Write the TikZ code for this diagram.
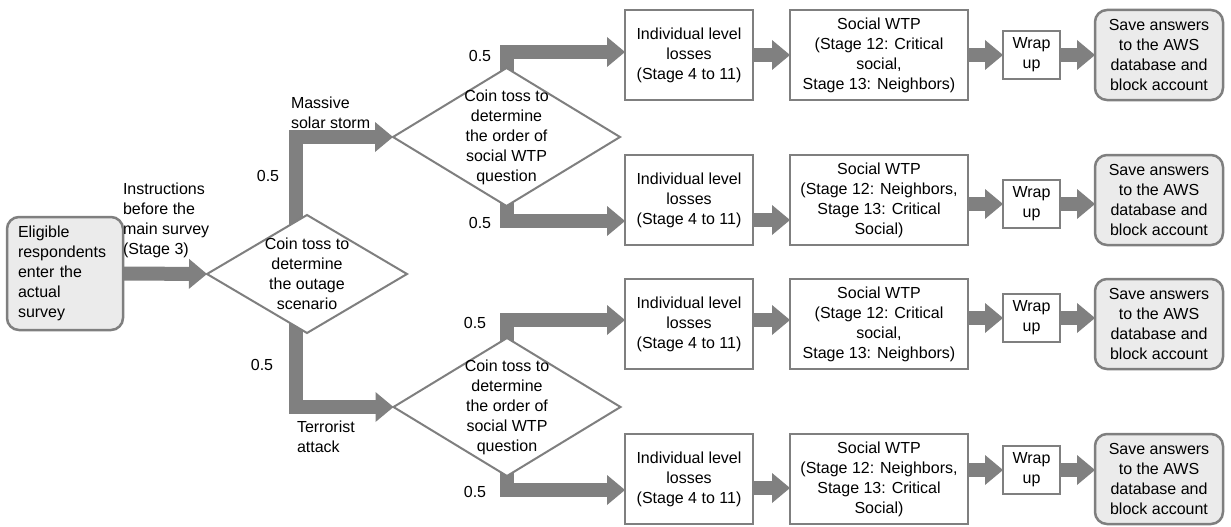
\documentclass[tikz,border=0pt]{standalone}
\usepackage{fontspec}
\setmainfont{Liberation Sans}
\usetikzlibrary{arrows.meta,shapes.geometric}
\definecolor{bgray}{HTML}{7F7F7F}
\definecolor{agray}{HTML}{808080}
\definecolor{lfill}{HTML}{EBEBEB}
\pgfdeclarelayer{bg}
\pgfsetlayers{bg,main}
\begin{document}
\begin{tikzpicture}[x=1pt,y=-1pt,
 every node/.style={font=\fontsize{16}{20}\selectfont, inner sep=0pt, outer sep=0pt},
 box/.style={draw=bgray, line width=2.5pt, fill=white, align=center, minimum height=90pt},
 indbox/.style={box, minimum width=128pt},
 socbox/.style={box, minimum width=178pt},
 wrapbox/.style={box, minimum width=57pt, minimum height=48pt},
 savebox/.style={box, fill=lfill, rounded corners=12pt, minimum width=128pt},
 dia/.style={diamond, draw=bgray, line width=2pt, fill=white},
 flow/.style={draw=agray, line width=14pt, line join=miter,
   -{Triangle[width=30pt,length=18pt,line width=0pt]}},
]
\useasboundingbox (0,0) rectangle (1231,527);

% start
\node[savebox, align=left, text width=94pt, minimum width=116pt, minimum height=113pt] (start) at (65,273.5)
  {Eligible\\respondents\\enter the\\actual\\survey};

% diamonds
\node[dia, minimum width=200pt, minimum height=118pt] (d1) at (307,274) {};
\node[align=center] (d1t) at (d1.center) {Coin toss to\\determine\\the outage\\scenario};
\node[dia, minimum width=227pt, minimum height=138pt] (d2) at (506.5,137) {};
\node[align=center] (d2t) at (d2.center) {Coin toss to\\determine\\the order of\\social WTP\\question};
\node[dia, minimum width=227pt, minimum height=138pt] (d3) at (507,407) {};
\node[align=center] (d3t) at (d3.center) {Coin toss to\\determine\\the order of\\social WTP\\question};

% row 1
\node[indbox] (i1) at (689,55) {Individual level\\losses\\(Stage 4 to 11)};
\node[socbox] (s1) at (879,55) {Social WTP\\(Stage 12: Critical\\social,\\Stage 13: Neighbors)};
\node[wrapbox] (w1) at (1031.5,55) {Wrap\\up};
\node[savebox] (v1) at (1159,55) {Save answers\\to the AWS\\database and\\block account};
% row 2
\node[indbox] (i2) at (689,200) {Individual level\\losses\\(Stage 4 to 11)};
\node[socbox] (s2) at (879,200) {Social WTP\\(Stage 12: Neighbors,\\Stage 13: Critical\\Social)};
\node[wrapbox] (w2) at (1031.5,204) {Wrap\\up};
\node[savebox] (v2) at (1159,200) {Save answers\\to the AWS\\database and\\block account};
% row 3
\node[indbox] (i3) at (689,324) {Individual level\\losses\\(Stage 4 to 11)};
\node[socbox] (s3) at (879,324) {Social WTP\\(Stage 12: Critical\\social,\\Stage 13: Neighbors)};
\node[wrapbox] (w3) at (1031.5,318) {Wrap\\up};
\node[savebox] (v3) at (1159,324) {Save answers\\to the AWS\\database and\\block account};
% row 4
\node[indbox] (i4) at (689,479) {Individual level\\losses\\(Stage 4 to 11)};
\node[socbox] (s4) at (879,479) {Social WTP\\(Stage 12: Neighbors,\\Stage 13: Critical\\Social)};
\node[wrapbox] (w4) at (1031.5,470) {Wrap\\up};
\node[savebox] (v4) at (1159,479) {Save answers\\to the AWS\\database and\\block account};

% labels
\node (p1) at (268,176) {0.5};
\node (p2) at (262,365) {0.5};
\node (p3) at (480,56) {0.5};
\node (p4) at (480,223) {0.5};
\node (p5) at (475,323) {0.5};
\node (p6) at (475,492) {0.5};
\node[anchor=west, align=left] (ins) at (123,220) {Instructions\\before the\\main survey\\(Stage 3)};
\node[anchor=west, align=left] (mss) at (291,113) {Massive\\solar storm};
\node[anchor=west, align=left] (ta) at (297,437) {Terrorist\\attack};

% connectors
\begin{pgfonlayer}{bg}
\draw[flow] (start.east) -- (d1.west);
\draw[flow] ([xshift=-11pt]d1.center) |- (d2.west);
\draw[flow] ([xshift=-11pt]d1.center) |- (d3.west);
\draw[flow] (d2.center) |- ([yshift=3pt]i1.west);
\draw[flow] (d2.center) |- ([yshift=-21pt]i2.west);
\draw[flow] (d3.center) |- ([yshift=4pt]i3.west);
\draw[flow] (d3.center) |- ([yshift=-11pt]i4.west);
\end{pgfonlayer}

\draw[flow] (i1.east) -- (s1.west);
\draw[flow] (s1.east) -- (w1.west);
\draw[flow] (w1.east) -- (v1.west);

\draw[flow] ([yshift=-20pt]i2.east) -- ([yshift=-20pt]s2.west);
\draw[flow] ([yshift=-4pt]s2.east) -- (w2.west);
\draw[flow] (w2.east) -- ([yshift=-4pt]v2.west);

\draw[flow] ([yshift=4pt]i3.east) -- ([yshift=4pt]s3.west);
\draw[flow] ([yshift=6pt]s3.east) -- (w3.west);
\draw[flow] (w3.east) -- ([yshift=6pt]v3.west);

\draw[flow] ([yshift=-9pt]i4.east) -- ([yshift=-9pt]s4.west);
\draw[flow] ([yshift=9pt]s4.east) -- (w4.west);
\draw[flow] (w4.east) -- ([yshift=9pt]v4.west);
\end{tikzpicture}
\end{document}
